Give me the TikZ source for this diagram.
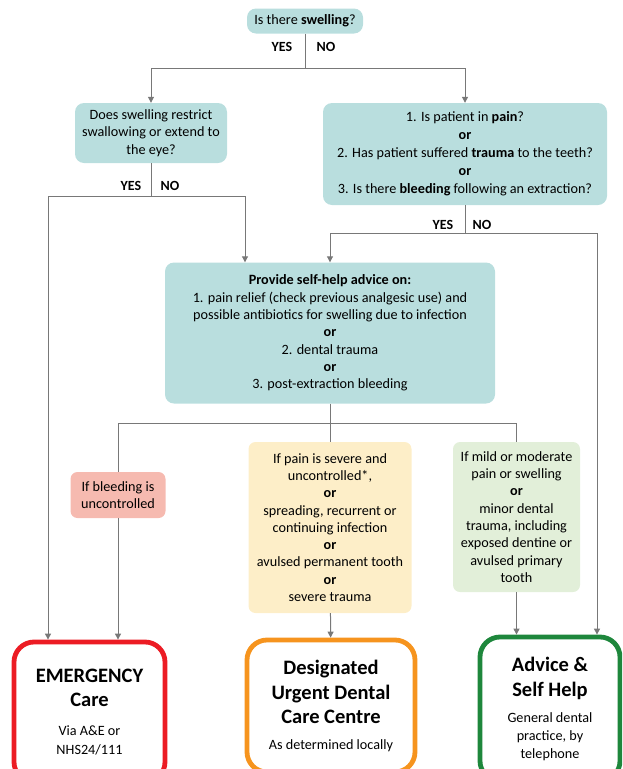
\documentclass[tikz,border=0pt]{standalone}
\usepackage{fontspec}
\setmainfont{Carlito}
\usetikzlibrary{positioning,arrows.meta}

\definecolor{tealbox}{RGB}{185,222,222}
\definecolor{redfill}{RGB}{246,186,176}
\definecolor{yellowfill}{RGB}{253,238,200}
\definecolor{greenfill}{RGB}{226,239,217}
\definecolor{redline}{RGB}{236,28,36}
\definecolor{orangeline}{RGB}{246,148,30}
\definecolor{greenline}{RGB}{30,135,60}
\definecolor{linegray}{RGB}{120,120,120}

\newcommand{\hd}{\fontsize{20.5}{24.5}\selectfont\bfseries}
\newcommand{\sm}{\fontsize{14.2}{18.5}\selectfont\mdseries}

\tikzset{
  body/.style={font=\fontsize{14.2}{17.3}\selectfont},
  qbox/.style={rectangle, rounded corners=9pt, fill=tealbox, align=center, inner sep=0pt, body},
  tagbox/.style={rectangle, rounded corners=7pt, align=center, inner sep=0pt, body},
  endbox/.style={rectangle, rounded corners=20pt, fill=white, line width=4.8pt, align=center, inner sep=0pt, font=\hd},
  yn/.style={font=\fontsize{14}{15}\selectfont\bfseries},
  flow/.style={draw=linegray, line width=1pt},
  flowarrow/.style={flow, -{Triangle[length=6pt,width=6pt]}}
}

\begin{document}
\begin{tikzpicture}[x=1pt, y=-1pt]
  \path[use as bounding box, clip] (0,0) rectangle (622,769);

  % questions
  \node[qbox, minimum width=116pt, minimum height=25pt] (swell) at (305,21)
    {Is there \textbf{swelling}?};
  \node[qbox, minimum width=152pt, minimum height=60pt] (restrict) at (151,133)
    {Does swelling restrict\\swallowing or extend to\\the eye?};
  \node[qbox, minimum width=284pt, minimum height=102pt] (pain) at (465,154)
    {1. Is patient in \textbf{pain}?\\[0.8pt] \textbf{or}\\[0.8pt]
     2. Has patient suffered \textbf{trauma} to the teeth?\\[0.8pt] \textbf{or}\\[0.8pt]
     3. Is there \textbf{bleeding} following an extraction?};
  \node[qbox, minimum width=330pt, minimum height=141pt] (help) at (330,333)
    {\textbf{Provide self-help advice on:}\\
     1. pain relief (check previous analgesic use) and\\
     possible antibiotics for swelling due to infection\\ \textbf{or}\\
     2. dental trauma\\ \textbf{or}\\
     3. post-extraction bleeding};

  % conditions
  \node[tagbox, fill=redfill, minimum width=95pt, minimum height=46pt] (bleed) at (118,495)
    {If bleeding is\\uncontrolled};
  \node[tagbox, fill=yellowfill, minimum width=163pt, minimum height=171pt] (severe) at (330,527.5)
    {If pain is severe and\\uncontrolled*,\\ \textbf{or}\\
     spreading, recurrent or\\continuing infection\\ \textbf{or}\\
     avulsed permanent tooth\\ \textbf{or}\\severe trauma};
  \node[tagbox, fill=greenfill, minimum width=127pt, minimum height=150pt] (mild) at (516.5,517)
    {If mild or moderate\\pain or swelling\\ \textbf{or}\\
     minor dental\\trauma, including\\exposed dentine or\\avulsed primary\\tooth};

  % outcomes
  \node[endbox, draw=redline, minimum width=151pt, minimum height=140pt] (emerg) at (89.5,712)
    {EMERGENCY\\Care\\[4.5pt] \sm Via A\&E or\\[-5.5pt] \sm NHS24/111};
  \node[endbox, draw=orangeline, minimum width=168pt, minimum height=132pt] (urgent) at (331,706)
    {Designated\\Urgent Dental\\Care Centre\\[1.5pt] \sm As determined locally};
  \node[endbox, draw=greenline, minimum width=140pt, minimum height=144pt] (advice) at (550,709)
    {Advice \&\\Self Help\\[1.5pt] \sm General dental\\[-6.5pt] \sm practice, by\\[-6.5pt] \sm telephone};

  % branch points
  \coordinate (s1) at (305,68);
  \coordinate (s2) at (151,196);
  \coordinate (s3) at (465,233);
  \coordinate (s4) at (330,423);

  \node[yn] (yes1) at (282,47) {YES};
  \node[yn] (no1) at (326,47) {NO};
  \node[yn] (yes2) at (131,186) {YES};
  \node[yn] (no2) at (170,186) {NO};
  \node[yn] (yes3) at (443,225) {YES};
  \node[yn] (no3) at (482,225) {NO};

  % connectors
  \draw[flow] (swell) -- (s1);
  \draw[flowarrow] (s1) -| (restrict);
  \draw[flowarrow] (s1) -| (pain);

  \draw[flow] (restrict) -- (s2);
  \draw[flowarrow] (s2) -| ([xshift=-41.5pt]emerg.north);
  \draw[flowarrow] (s2) -| ([xshift=-85pt]help.north);

  \draw[flow] (pain) -- (s3);
  \draw[flowarrow] (s3) -| (help);
  \draw[flowarrow] (s3) -| ([xshift=47pt]advice.north);

  \draw[flow] (help) -- (s4);
  \draw[flow] (s4) -| (bleed);
  \draw[flow] (s4) -- (severe);
  \draw[flow] (s4) -| (mild);

  \draw[flowarrow] (bleed) -- (bleed |- emerg.north);
  \draw[flowarrow] (severe) -- (urgent);
  \draw[flowarrow] (mild) -- (mild |- advice.north);
\end{tikzpicture}
\end{document}
